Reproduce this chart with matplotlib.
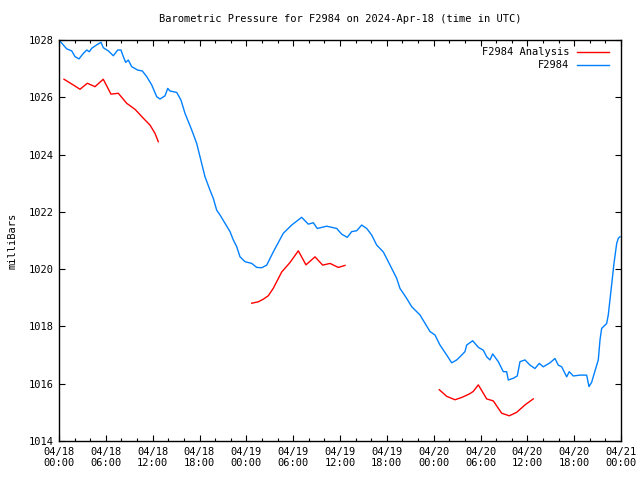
import numpy as np
import matplotlib
matplotlib.use("Agg")
import matplotlib.pyplot as plt
import matplotlib.dates as mdates
from datetime import datetime, timedelta

# hours since 2024-04-18 00:00 UTC
obs_hours = [0.0, 0.99, 1.63, 2.05, 2.56, 3.11, 3.55, 3.88, 4.19, 4.83, 5.38, 5.68, 6.32,
             6.96, 7.52, 7.94, 8.24, 8.54, 8.88, 9.31, 10.08, 10.67, 11.24, 11.88, 12.52,
             12.94, 13.58, 13.93, 14.22, 15.08, 15.63, 16.14, 17.0, 17.64, 18.06, 18.7,
             19.34, 19.77, 20.2, 20.63, 21.27, 21.91, 22.33, 22.76, 23.19, 23.83, 24.69,
             25.33, 25.97, 26.61, 27.45, 28.73, 29.81, 31.09, 31.94,
             32.58, 33.09, 34.29, 35.58, 36.22, 36.93, 37.5, 38.14, 38.78, 39.42, 40.06,
             40.7, 41.55, 42.19, 43.26, 43.68, 44.54, 45.18, 46.25, 47.53, 48.17, 48.81,
             49.67, 50.31, 50.95, 51.37, 52.01, 52.23, 53.0, 53.72, 54.36, 54.79, 55.21,
             55.56, 56.28, 56.92, 57.35, 57.56, 58.2, 58.71, 59.06, 59.7, 60.34, 60.98,
             61.53, 62.04, 62.9, 63.54, 63.96, 64.4, 65.04, 65.37, 65.89, 66.74, 67.6,
             67.9, 68.24, 68.67, 69.09, 69.31, 69.52, 70.16, 70.37, 70.8, 71.1, 71.45,
             71.66, 71.87]
obs_values = [1028.0, 1027.69, 1027.62, 1027.42, 1027.34, 1027.53, 1027.65, 1027.59, 1027.71,
              1027.83, 1027.92, 1027.73, 1027.62, 1027.45, 1027.65, 1027.65, 1027.42, 1027.22,
              1027.3, 1027.07, 1026.95, 1026.92, 1026.72, 1026.43, 1026.02, 1025.94, 1026.05,
              1026.31, 1026.22, 1026.17, 1025.9, 1025.44, 1024.86, 1024.39, 1023.93, 1023.23,
              1022.76, 1022.47, 1022.06, 1021.89, 1021.6, 1021.31, 1021.02, 1020.79, 1020.43,
              1020.26, 1020.2, 1020.06, 1020.05, 1020.14, 1020.6, 1021.25, 1021.54, 1021.81,
              1021.57, 1021.62,
              1021.42, 1021.5, 1021.42, 1021.22, 1021.11, 1021.31, 1021.34, 1021.54, 1021.42,
              1021.19, 1020.84, 1020.6, 1020.26, 1019.68, 1019.33, 1018.98, 1018.69, 1018.4,
              1017.82, 1017.7, 1017.35, 1017.0, 1016.73, 1016.83, 1016.94, 1017.12, 1017.35,
              1017.5, 1017.27, 1017.17, 1016.94, 1016.83, 1017.04, 1016.77, 1016.42, 1016.42,
              1016.13, 1016.19, 1016.27, 1016.77, 1016.83, 1016.65, 1016.53, 1016.71, 1016.59,
              1016.73, 1016.88, 1016.65, 1016.59, 1016.24, 1016.42, 1016.27, 1016.3, 1016.3,
              1015.9, 1016.05, 1016.45, 1016.83, 1017.53, 1017.93, 1018.1, 1018.4, 1019.45,
              1020.2, 1020.9, 1021.08, 1021.13]

ana_hours = [0.64, 1.83, 2.69, 3.63, 4.61, 5.67, 6.66, 7.6, 8.67, 9.74, 10.8, 11.66, 12.3, 12.72,
             np.nan,
             24.69, 25.53, 26.17, 26.81, 27.45, 28.53, 29.59, 30.66, 31.64, 32.8, 33.78, 34.72,
             35.78, 36.64,
             np.nan,
             48.72, 49.67, 50.73, 51.59, 52.56, 53.07, 53.72, 54.79, 55.64, 56.71, 57.69, 58.63,
             59.7, 60.76]
ana_values = [1026.63, 1026.43, 1026.28, 1026.49, 1026.37, 1026.63, 1026.11, 1026.14, 1025.79,
              1025.58, 1025.27, 1025.03, 1024.74, 1024.45,
              np.nan,
              1018.81, 1018.86, 1018.95, 1019.07, 1019.33, 1019.9, 1020.23, 1020.64, 1020.15,
              1020.43, 1020.14, 1020.2, 1020.06, 1020.13,
              np.nan,
              1015.79, 1015.56, 1015.44, 1015.52, 1015.64, 1015.73, 1015.96, 1015.47, 1015.40,
              1014.97, 1014.88, 1015.0, 1015.26, 1015.47]

title = "Barometric Pressure for F2984 on 2024-Apr-18 (time in UTC)"
ylabel = "milliBars"
start = datetime(2024, 4, 18)

def to_dates(hours):
    out = []
    for h in hours:
        if np.isnan(h):
            out.append(np.nan)
        else:
            out.append(mdates.date2num(start + timedelta(hours=h)))
    return np.array(out, dtype=float)

FONT = "DejaVu Sans Mono"
plt.rcParams['font.family'] = FONT
plt.rcParams['font.size'] = 7

fig = plt.figure(figsize=(6.4, 4.8), dpi=100)
ax = fig.add_axes([59/640, 39/480, 562/640, 401/480])

ax.plot(to_dates(ana_hours), ana_values, color="#ff0000", lw=1.0, label="F2984 Analysis")
ax.plot(to_dates(obs_hours), obs_values, color="#0080ff", lw=1.0, label="F2984")

ax.set_xlim(mdates.date2num(start), mdates.date2num(start + timedelta(hours=72)))
ax.set_ylim(1014, 1028)
ax.set_yticks(np.arange(1014, 1029, 2))
ax.xaxis.set_major_locator(mdates.HourLocator(byhour=[0, 6, 12, 18]))
ax.xaxis.set_minor_locator(mdates.HourLocator(byhour=range(0, 24, 2)))
ax.xaxis.set_major_formatter(mdates.DateFormatter("%m/%d\n%H:%M"))

ax.tick_params(which="both", direction="in", top=True, right=True, labelsize=7.5, colors="black")
ax.tick_params(which="major", length=4.5, width=0.8, pad=4)
ax.tick_params(which="minor", length=2.5, width=0.8)
for s in ax.spines.values():
    s.set_linewidth(1.0)
    s.set_color("black")

ax.set_title(title, fontsize=7.5, pad=13)
ax.set_ylabel(ylabel, fontsize=7.5, labelpad=8)

leg = ax.legend(loc="upper right", frameon=False, markerfirst=False, fontsize=7.5,
                handlelength=3.0, handletextpad=0.8, labelspacing=0.3,
                borderaxespad=0.3, bbox_to_anchor=(1 - 5/562, 1))

fig.savefig("out.png", dpi=100)
